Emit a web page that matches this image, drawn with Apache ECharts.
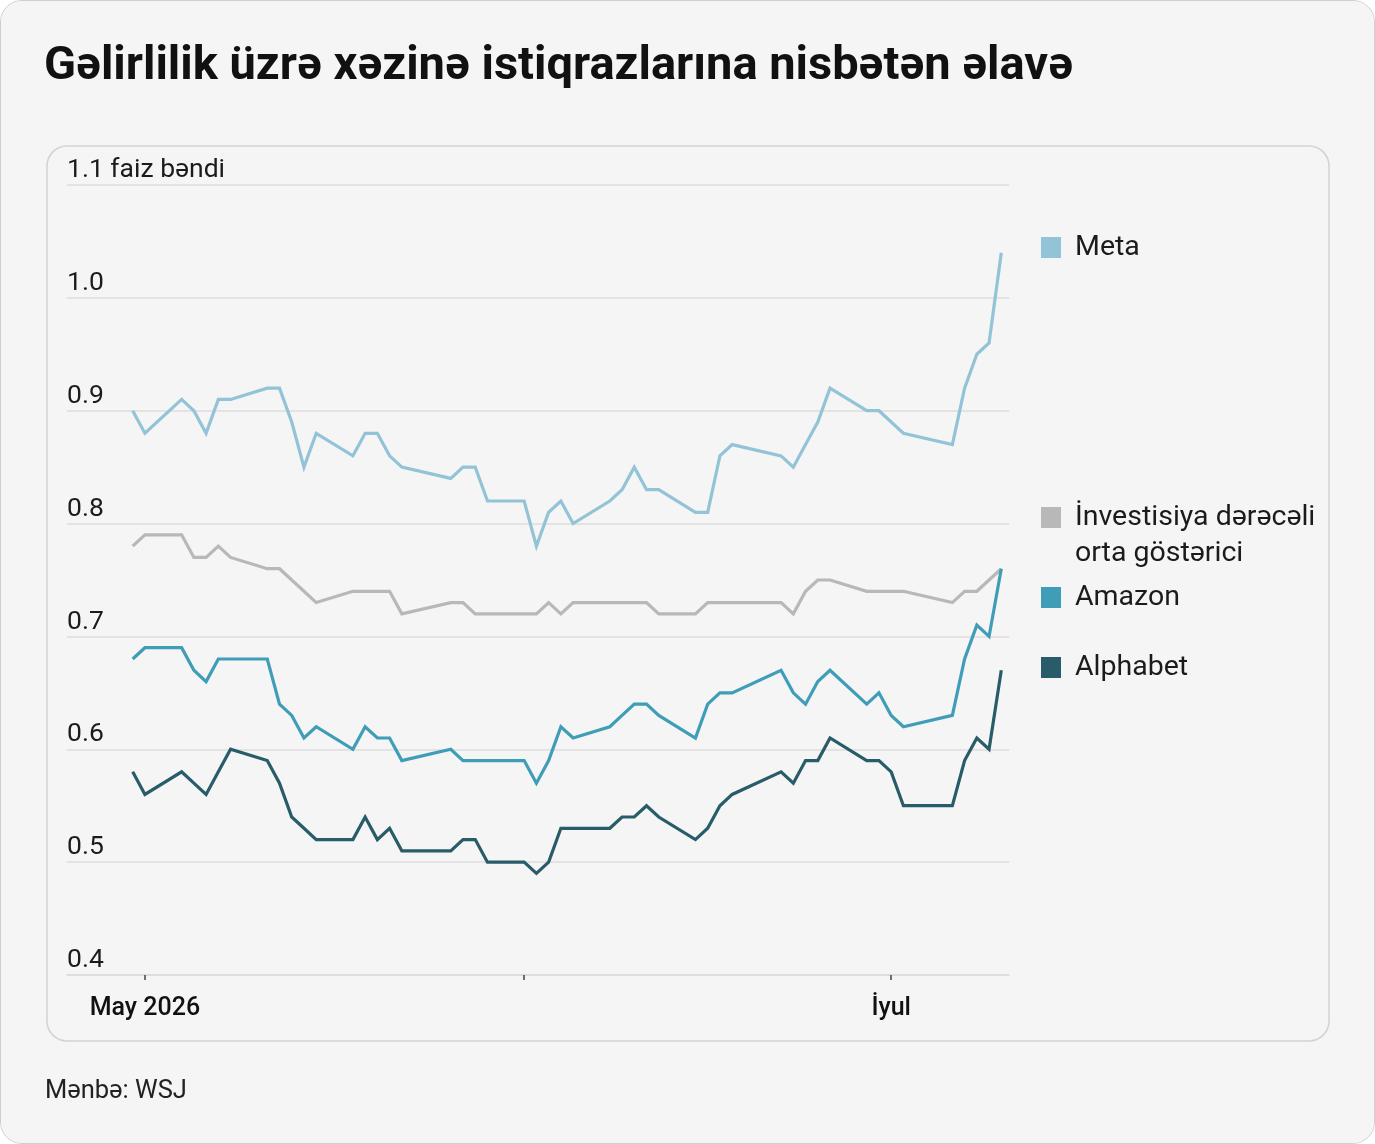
<!DOCTYPE html>
<html>
<head>
<meta charset="utf-8">
<title>Gəlirlilik üzrə əlavə</title>
<script src="https://cdn.jsdelivr.net/npm/echarts@6.0.0/dist/echarts.min.js"></script>
<style>
  html, body { margin: 0; padding: 0; background: #ffffff; }
  #wrap {
    width: 1373px; height: 1142px;
    border: 1px solid #cfcfcf; border-radius: 22px;
    background: #f5f5f5; overflow: hidden;
  }
  #main { width: 1373px; height: 1142px; }
</style>
</head>
<body>
<div id="wrap"><div id="main"></div></div>
<script>
// ticarət günləri (2026)
var dates = [
  '2026-04-30', '2026-05-01',
  '2026-05-04', '2026-05-05', '2026-05-06', '2026-05-07', '2026-05-08',
  '2026-05-11', '2026-05-12', '2026-05-13', '2026-05-14', '2026-05-15',
  '2026-05-18', '2026-05-19', '2026-05-20', '2026-05-21', '2026-05-22',
  '2026-05-26', '2026-05-27', '2026-05-28', '2026-05-29',
  '2026-06-01', '2026-06-02', '2026-06-03', '2026-06-04', '2026-06-05',
  '2026-06-08', '2026-06-09', '2026-06-10', '2026-06-11', '2026-06-12',
  '2026-06-15', '2026-06-16', '2026-06-17', '2026-06-18',
  '2026-06-22', '2026-06-23', '2026-06-24', '2026-06-25', '2026-06-26',
  '2026-06-29', '2026-06-30', '2026-07-01', '2026-07-02',
  '2026-07-06', '2026-07-07', '2026-07-08', '2026-07-09', '2026-07-10'
];

var meta = [
  0.90, 0.88,
  0.91, 0.90, 0.88, 0.91, 0.91,
  0.92, 0.92, 0.89, 0.85, 0.88,
  0.86, 0.88, 0.88, 0.86, 0.85,
  0.84, 0.85, 0.85, 0.82,
  0.82, 0.78, 0.81, 0.82, 0.80,
  0.82, 0.83, 0.85, 0.83, 0.83,
  0.81, 0.81, 0.86, 0.87,
  0.86, 0.85, 0.87, 0.89, 0.92,
  0.90, 0.90, 0.89, 0.88,
  0.87, 0.92, 0.95, 0.96, 1.04
];

var invGrade = [
  0.78, 0.79,
  0.79, 0.77, 0.77, 0.78, 0.77,
  0.76, 0.76, 0.75, 0.74, 0.73,
  0.74, 0.74, 0.74, 0.74, 0.72,
  0.73, 0.73, 0.72, 0.72,
  0.72, 0.72, 0.73, 0.72, 0.73,
  0.73, 0.73, 0.73, 0.73, 0.72,
  0.72, 0.73, 0.73, 0.73,
  0.73, 0.72, 0.74, 0.75, 0.75,
  0.74, 0.74, 0.74, 0.74,
  0.73, 0.74, 0.74, 0.75, 0.76
];

var amazon = [
  0.68, 0.69,
  0.69, 0.67, 0.66, 0.68, 0.68,
  0.68, 0.64, 0.63, 0.61, 0.62,
  0.60, 0.62, 0.61, 0.61, 0.59,
  0.60, 0.59, 0.59, 0.59,
  0.59, 0.57, 0.59, 0.62, 0.61,
  0.62, 0.63, 0.64, 0.64, 0.63,
  0.61, 0.64, 0.65, 0.65,
  0.67, 0.65, 0.64, 0.66, 0.67,
  0.64, 0.65, 0.63, 0.62,
  0.63, 0.68, 0.71, 0.70, 0.76
];

var alphabet = [
  0.58, 0.56,
  0.58, 0.57, 0.56, 0.58, 0.60,
  0.59, 0.57, 0.54, 0.53, 0.52,
  0.52, 0.54, 0.52, 0.53, 0.51,
  0.51, 0.52, 0.52, 0.50,
  0.50, 0.49, 0.50, 0.53, 0.53,
  0.53, 0.54, 0.54, 0.55, 0.54,
  0.52, 0.53, 0.55, 0.56,
  0.58, 0.57, 0.59, 0.59, 0.61,
  0.59, 0.59, 0.58, 0.55,
  0.55, 0.59, 0.61, 0.60, 0.67
];

var seriesNames = ['Meta', 'İnvestisiya dərəcəli orta göstərici', 'Amazon', 'Alphabet'];
var seriesColors = ['#93c3d6', '#b8b8b8', '#3f9db8', '#285c69'];
var seriesValues = [meta, invGrade, amazon, alphabet];

var tickDates = ['2026-05-01', '2026-06-01', '2026-07-01'];
var labelDates = ['2026-05-01', '2026-07-01'];
var labelTexts = ['May 2026', 'İyul'];

var FONT = 'Roboto, "Noto Sans", sans-serif';
var DAY = 86400000;

// gün sayı: 1 may 2026-dan bəri (UTC ilə, saat qurşağından asılı olmasın)
function dayNum(s) {
  var p = s.split('-');
  return Math.round((Date.UTC(+p[0], +p[1] - 1, +p[2]) - Date.UTC(2026, 4, 1)) / DAY);
}

var tickDays = tickDates.map(dayNum);
var labelDays = labelDates.map(dayNum);

var chart = echarts.init(document.getElementById('main'), null, { renderer: 'canvas' });

var series = seriesNames.map(function (name, i) {
  return {
    name: name,
    type: 'line',
    symbol: 'none',
    smooth: false,
    animation: false,
    color: seriesColors[i],
    lineStyle: { width: 3.2, color: seriesColors[i], join: 'miter' },
    data: dates.map(function (d, k) { return [dayNum(d), seriesValues[i][k]]; })
  };
});

// legend blokları – hər biri ayrıca yerləşdirilir
var legendTops = [232, 502, 582, 652];
var legends = seriesNames.map(function (name, i) {
  return {
    data: [{ name: name, icon: 'rect' }],
    left: 1040,
    top: legendTops[i],
    padding: 0,
    itemWidth: 20,
    itemHeight: 21,
    selectedMode: false,
    formatter: function (n) { return n.indexOf('İnvestisiya') === 0 ? 'İnvestisiya dərəcəli' : n; },
    textStyle: { fontFamily: FONT, fontSize: 28.5, color: '#1b1b1b', padding: [0, 0, 0, 9] }
  };
});

var option = {
  backgroundColor: '#f5f5f5',
  animation: false,
  title: [
    {
      text: 'Gəlirlilik üzrə xəzinə istiqrazlarına nisbətən əlavə',
      left: 43, top: 43, padding: 0,
      textStyle: { fontFamily: FONT, fontSize: 47, fontWeight: 'bold', color: '#111' }
    },
    {
      text: 'Mənbə: WSJ',
      left: 44, top: 1078, padding: 0,
      textStyle: { fontFamily: FONT, fontSize: 25.5, fontWeight: 'normal', color: '#222' }
    }
  ],
  legend: legends,
  graphic: [
    {
      type: 'rect', silent: true, z: -1,
      shape: { x: 46, y: 145, width: 1282, height: 895, r: 20 },
      style: { fill: '#f5f5f5', stroke: '#d2d2d2', lineWidth: 1.5 }
    },
    {
      type: 'text', silent: true,
      left: 1074, top: 538,
      style: { text: 'orta göstərici', font: '28.5px ' + FONT, fill: '#1b1b1b' }
    }
  ],
  grid: { left: 66, right: 365, top: 184, bottom: 168 },
  xAxis: {
    type: 'value',
    min: -6.37,
    max: 70.63,
    splitLine: { show: false },
    axisLine: { show: true, onZero: false, lineStyle: { color: '#dcdcdc', width: 1.5 } },
    axisTick: {
      show: true, customValues: tickDays, length: 5, inside: false,
      lineStyle: { color: '#444', width: 1.5 }
    },
    axisLabel: {
      customValues: labelDays,
      margin: 21,
      fontFamily: FONT, fontSize: 25, fontWeight: 500, color: '#111',
      formatter: function (v) {
        var k = labelDays.indexOf(Math.round(v));
        return k >= 0 ? labelTexts[k] : '';
      }
    }
  },
  yAxis: {
    type: 'value',
    min: 0.4, max: 1.1, interval: 0.1,
    axisLine: { show: false },
    axisTick: { show: false },
    splitLine: { show: true, lineStyle: { color: '#dcdcdc', width: 1.5 } },
    axisLabel: {
      inside: true, margin: 0,
      verticalAlign: 'bottom',
      padding: [0, 0, 1, 0],
      fontFamily: FONT, fontSize: 26.5, color: '#1b1b1b',
      formatter: function (v) {
        var s = v.toFixed(1);
        return Math.abs(v - 1.1) < 1e-6 ? s + ' faiz bəndi' : s;
      }
    }
  },
  series: series
};

chart.setOption(option);
</script>
</body>
</html>
